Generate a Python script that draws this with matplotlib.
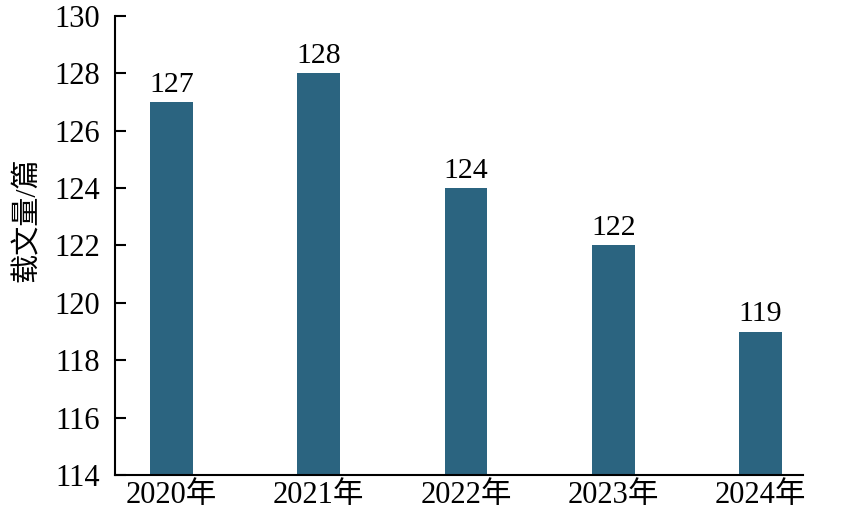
import matplotlib
matplotlib.use("Agg")
import matplotlib.pyplot as plt

years = ["2020年", "2021年", "2022年", "2023年", "2024年"]
counts = [127, 128, 124, 122, 119]
yticks = [114, 116, 118, 120, 122, 124, 126, 128, 130]

fam = ["Liberation Serif", "Noto Sans CJK SC"]
plt.rcParams["font.family"] = fam

fig = plt.figure(figsize=(8.58, 5.16), dpi=100)
ax = fig.add_axes([0.134, 0.0795, 0.802, 0.8895])

x = list(range(len(years)))
bars = ax.bar(x, counts, width=0.29, color="#2b6480", zorder=2)
for xi, v in zip(x, counts):
    ax.text(xi, v + 0.15, str(v), ha="center", va="bottom", fontsize=21.5)

ax.set_ylim(114, 130)
ax.set_xlim(-0.384, 4.289)
ax.set_yticks(yticks)
ax.set_yticklabels([str(t) for t in yticks], fontsize=22)
ax.set_xticks(x)
ax.set_xticklabels(years, fontsize=22)
ax.tick_params(axis="y", direction="in", length=8, width=1.5, pad=11)
ax.tick_params(axis="x", length=0, pad=4)
for s in ["top", "right"]:
    ax.spines[s].set_visible(False)
for s in ["left", "bottom"]:
    ax.spines[s].set_linewidth(1.5)
ax.set_ylabel("载文量/篇", fontsize=21, labelpad=8)
ax.yaxis.set_label_coords(-0.108, 0.556)

fig.savefig("out.png", dpi=100)
